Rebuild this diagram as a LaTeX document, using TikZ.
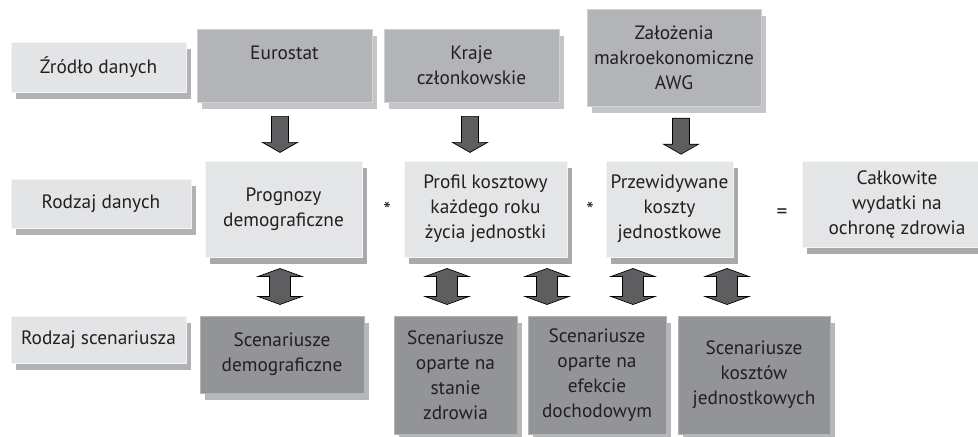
\documentclass[tikz,border=0pt]{standalone}
\usepackage{fontspec}
\setmainfont{PT Sans}
\usetikzlibrary{shadows, calc, positioning}
\definecolor{labGrey}{HTML}{E3E4E6}
\definecolor{labShade}{HTML}{B1B2B4}
\definecolor{srcGrey}{HTML}{B3B4B7}
\definecolor{srcShade}{HTML}{C4C5C7}
\definecolor{datGrey}{HTML}{E4E5E7}
\definecolor{datShade}{HTML}{A8A9AB}
\definecolor{scnGrey}{HTML}{939497}
\definecolor{scnShade}{HTML}{B6B7B9}
\definecolor{arrGrey}{HTML}{5E5E61}
\definecolor{txtGrey}{HTML}{231F20}
\tikzset{
  wh/.style 2 args = {minimum width=#1*0.75pt, minimum height=#2*0.75pt},
  box/.style        = {rectangle, inner sep=0pt, align=center, text=txtGrey,
                       line width=0.6pt, font=\fontsize{14.5}{18.75}\selectfont},
  labbox/.style     = {box, fill=labGrey, draw=white!60!labGrey,
                       general shadow={fill=labShade, shadow xshift=3.75pt, shadow yshift=-5.4pt}},
  srcbox/.style     = {box, fill=srcGrey, draw=white!40!srcGrey,
                       general shadow={fill=srcShade, shadow xshift=3.75pt, shadow yshift=-5.6pt}},
  datbox/.style     = {box, fill=datGrey, draw=white!60!datGrey,
                       general shadow={fill=datShade, shadow xshift=3.75pt, shadow yshift=-5.6pt}},
  scnbox/.style     = {box, fill=scnGrey, draw=white!30!scnGrey,
                       general shadow={fill=scnShade, shadow xshift=3.75pt, shadow yshift=-5.6pt}},
  op/.style         = {text=txtGrey, inner sep=0pt, font=\fontsize{16}{18.75}\selectfont},
  blockarrow/.style = {fill=arrGrey, draw=black, line width=0.5pt, line join=miter},
}

\begin{document}
\begin{tikzpicture}[x=0.75pt, y=-0.75pt]
\useasboundingbox (0,0) rectangle (978,436);
\newcommand{\feedarrow}[3]{% x, upper box, lower box
  \coordinate (ax) at (#1,0);
  \coordinate (m) at ($(ax |- #2.south)!.55!(ax |- #3.north)$);
  \draw[blockarrow] ($(m)+(-8.5,-18)$) -- ++(17,0) -- ++(0,26) -- ++(9,0)
    -- ($(m)+(0,18)$) -- ++(-17.5,-10) -- ++(9,0) -- cycle;}
\newcommand{\linkarrow}[3]{% x, upper box, lower box
  \coordinate (ax) at (#1,0);
  \coordinate (m) at ($(ax |- #2.south)!.5!(ax |- #3.north)$);
  \draw[blockarrow] ($(m)+(0,-18)$) -- ++(22,8) -- ++(-11.5,0) -- ++(0,20)
    -- ++(11.5,0) -- ++(-22,8) -- ++(-22,-8) -- ++(11.5,0) -- ++(0,-20)
    -- ++(-11.5,0) -- cycle;}
% row labels
\node[labbox, wh={175}{50}] (srclab) at (98.5,67)    {Źródło danych};
\node[labbox, wh={180}{49}] (datlab) at (101,203.5)  {Rodzaj danych};
\node[labbox, wh={175}{47}] (scnlab) at (98.5,339.5) {Rodzaj scenariusza};
% data sources
\node[srcbox, wh={175}{73}] (eurostat) at (284.5,65.5) {Eurostat\\[1pt]\phantom{X}};
\node[srcbox, wh={175}{73}] (kraje)    at (471.5,65.5) {Kraje\\członkowskie};
\node[srcbox, wh={174}{97}] (awg)      at (674,57.5)   {Założenia\\makroekonomiczne\\AWG};
% data types
\node[datbox, wh={157}{96}] (prognozy) at (283.5,209) {Prognozy\\demograficzne};
\node[datbox, wh={163}{96}] (profil)   at (485.5,209) {Profil kosztowy\\każdego roku\\życia jednostki};
\node[datbox, wh={127}{96}] (koszty)   at (669.5,209) {Przewidywane\\koszty\\jednostkowe};
\node[datbox, wh={190}{86}] (wydatki)  at (897,204)   {Całkowite\\wydatki na\\ochronę zdrowia};
\node[op] (times1) at (387,210) {*};
\node[op] (times2) at (590,210) {*};
\node[op] (equals) at (782,214) {=};
% scenarios
\node[scnbox, wh={164}{77}]  (scdemo)  at (282,354.5) {Scenariusze\\demograficzne};
\node[scnbox, wh={123}{118}] (sczdrow) at (455.5,375) {Scenariusze\\oparte na\\stanie\\zdrowia};
\node[scnbox, wh={138}{118}] (scdoch)  at (597,375)   {Scenariusze\\oparte na\\efekcie\\dochodowym};
\node[scnbox, wh={152}{118}] (sckoszt) at (754,375)   {Scenariusze\\kosztów\\jednostkowych};
% arrows
\feedarrow{280}{eurostat}{prognozy}
\feedarrow{470}{kraje}{profil}
\feedarrow{681}{awg}{koszty}
\linkarrow{280}{prognozy}{scdemo}
\linkarrow{447}{profil}{sczdrow}
\linkarrow{547}{profil}{scdoch}
\linkarrow{633}{koszty}{scdoch}
\linkarrow{727}{koszty}{sckoszt}
\end{tikzpicture}
\end{document}
